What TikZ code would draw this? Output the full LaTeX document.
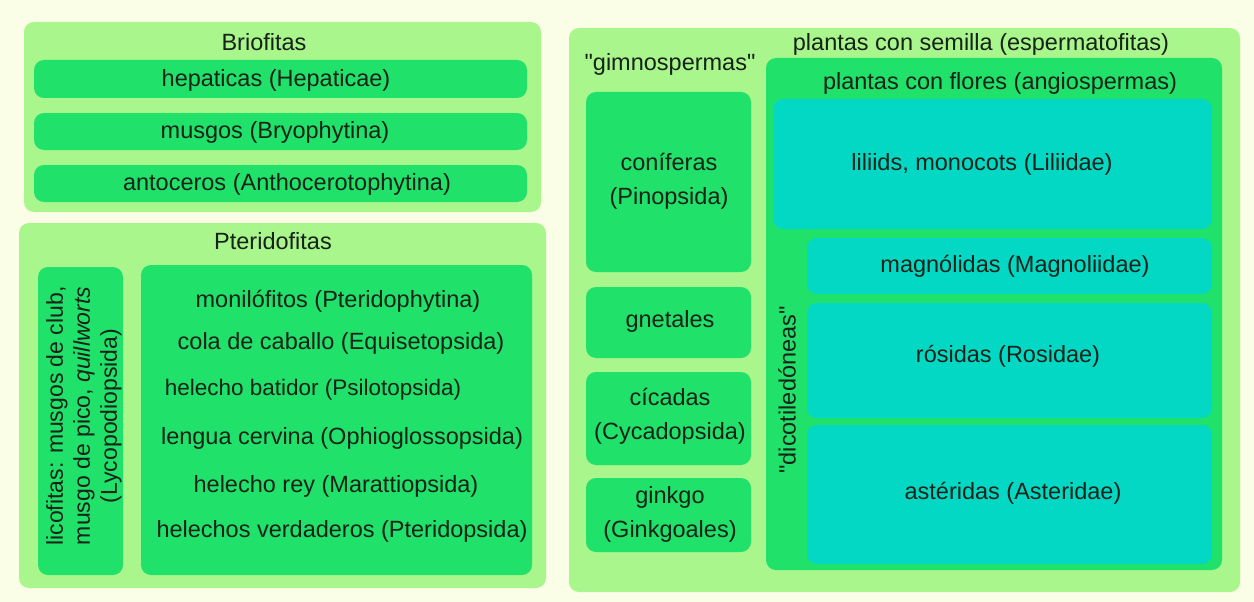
\documentclass[tikz,border=0pt]{standalone}
\usepackage{fontspec}
\setmainfont{Liberation Sans}[Ligatures=TeXOff]
\pgfdeclarelayer{boxlayer}
\pgfdeclarelayer{nodelayer}
\pgfsetlayers{boxlayer,main,nodelayer}
\definecolor{paper}{HTML}{FBFEE6}
\definecolor{pale}{HTML}{A8F68C}
\definecolor{leaf}{HTML}{20E16A}
\definecolor{aqua}{HTML}{03D8C4}
\definecolor{ink}{HTML}{172219}
\tikzstyle{group}=[fill=pale, rounded corners=10pt]
\tikzstyle{taxon}=[fill=leaf, rounded corners=10pt]
\tikzstyle{clade}=[fill=aqua, rounded corners=10pt]
\tikzstyle{taxtext}=[text=ink, inner sep=0pt, align=center, font=\fontsize{23.5}{34}\selectfont]
\tikzstyle{smalltext}=[taxtext, font=\fontsize{22.5}{27}\selectfont]

\begin{document}
\begin{tikzpicture}[x=1pt, y=-1pt]
				\useasboundingbox (0,0) rectangle (1254,602);
				\begin{pgfonlayer}{boxlayer}
					\fill [paper] (0,0) rectangle (1254,602);
					\fill [style=group] (24,22) rectangle (541,212);
					\fill [style=taxon] (34,60) rectangle (527,98);
					\fill [style=taxon] (34,113) rectangle (527,150);
					\fill [style=taxon] (34,165) rectangle (527,202);
					\fill [style=group] (19,223) rectangle (546,588);
					\fill [style=taxon] (38,267) rectangle (123,575);
					\fill [style=taxon] (141,265) rectangle (532,575);
					\fill [style=group] (569,28) rectangle (1240,592);
					\fill [style=taxon] (586,92) rectangle (751,272);
					\fill [style=taxon] (586,287) rectangle (751,358);
					\fill [style=taxon] (586,372) rectangle (751,465);
					\fill [style=taxon] (586,478) rectangle (751,552);
					\fill [style=taxon] (766,58) rectangle (1222,570);
					\fill [style=clade] (773,99) rectangle (1212,229);
					\fill [style=clade] (807,238) rectangle (1212,294);
					\fill [style=clade] (807,303) rectangle (1212,418);
					\fill [style=clade] (807,425) rectangle (1212,564);
				\end{pgfonlayer}
				\begin{pgfonlayer}{nodelayer}
					\node [style=taxtext] (brio) at (264,42) {Briofitas};
					\node [style=taxtext] (hep) at (276,80) {hepaticas (Hepaticae)};
					\node [style=taxtext] (mus) at (275,132) {musgos (Bryophytina)};
					\node [style=taxtext] (ant) at (287,184) {antoceros (Anthocerotophytina)};
					\node [style=taxtext] (pter) at (273,241) {Pteridofitas};
					\node [style=taxtext, rotate=90, font=\fontsize{23}{27}\selectfont] (lico) at (84,416) {licofitas: musgos de club,\\musgo de pico, \textit{quillworts}\\(Lycopodiopsida)};
					\node [style=taxtext] (moni) at (338,301) {monilófitos (Pteridophytina)};
					\node [style=taxtext] (cola) at (341,343) {cola de caballo (Equisetopsida)};
					\node [style=smalltext] (psil) at (313,390) {helecho batidor (Psilotopsida)};
					\node [style=taxtext] (ophi) at (342,438) {lengua cervina (Ophioglossopsida)};
					\node [style=taxtext] (mara) at (336,486) {helecho rey (Marattiopsida)};
					\node [style=taxtext] (pteri) at (342,531) {helechos verdaderos (Pteridopsida)};
					\node [style=taxtext] (sem) at (981,44) {plantas con semilla (espermatofitas)};
					\node [style=taxtext] (gimno) at (670,64) {"gimnospermas"};
					\node [style=taxtext] (coni) at (669,181) {coníferas\\(Pinopsida)};
					\node [style=taxtext] (gnet) at (670,321) {gnetales};
					\node [style=taxtext] (cica) at (670,416) {cícadas\\(Cycadopsida)};
					\node [style=taxtext] (gink) at (670,514) {ginkgo\\(Ginkgoales)};
					\node [style=taxtext] (angio) at (1000,83) {plantas con flores (angiospermas)};
					\node [style=taxtext] (lili) at (982,164) {liliids, monocots (Liliidae)};
					\node [style=taxtext] (magn) at (1015,266) {magnólidas (Magnoliidae)};
					\node [style=taxtext, rotate=90] (dico) at (787,390) {"dicotiledóneas"};
					\node [style=taxtext] (rosi) at (1008,356) {rósidas (Rosidae)};
					\node [style=taxtext] (aste) at (1013,493) {astéridas (Asteridae)};
				\end{pgfonlayer}
			\end{tikzpicture}
\end{document}
